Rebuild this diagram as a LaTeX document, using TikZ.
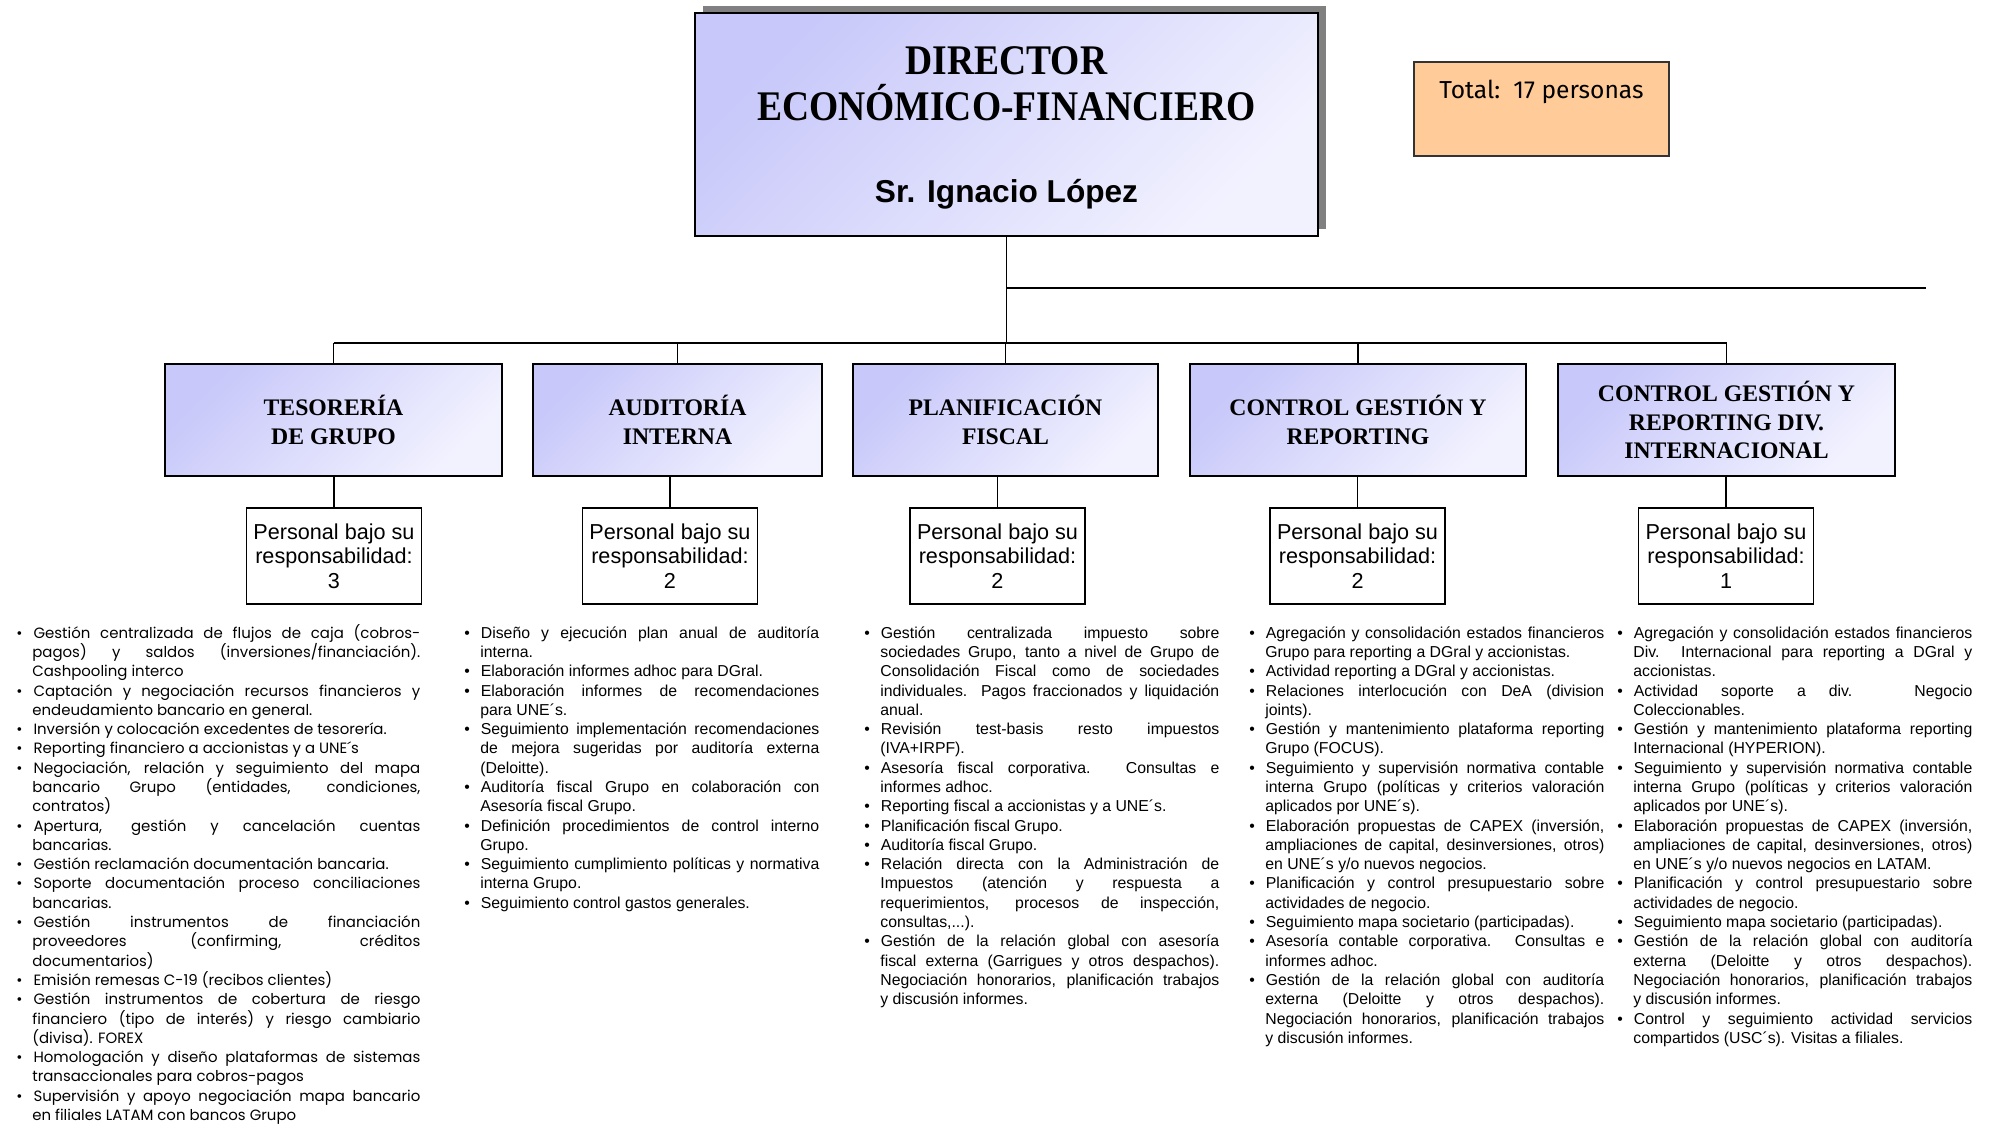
\documentclass[tikz,border=0pt]{standalone}
\usepackage{fontspec}
\setmainfont{Liberation Sans}
\newfontfamily\titlefont[FakeStretch=0.89]{Liberation Serif}
\newfontfamily\deptfont{Liberation Serif}
\newfontfamily\gothicfont{Poppins}
\newfontfamily\totalfont{Fira Sans}
\usetikzlibrary{positioning, calc, shadows}

\definecolor{boxdark}{RGB}{200,200,250}
\definecolor{boxlight}{RGB}{242,242,255}
\definecolor{peach}{RGB}{255,204,153}
\definecolor{shadowgray}{RGB}{128,128,128}

\newenvironment{tareas}{%
  \hyphenpenalty=10000 \exhyphenpenalty=10000
  \begin{list}{\textbullet}{\setlength{\leftmargin}{0.35cm}\setlength{\labelwidth}{0.1cm}%
    \setlength{\labelsep}{0.22cm}\setlength{\itemsep}{0pt}\setlength{\parsep}{0pt}%
    \setlength{\topsep}{0pt}\setlength{\partopsep}{0pt}}}%
  {\end{list}}

\begin{document}
\begin{tikzpicture}[
    director/.style={rectangle, draw, line width=1pt, top color=boxdark, bottom color=boxlight, shading angle=45, minimum width=12.46cm, minimum height=4.46cm, align=center, font=\titlefont\bfseries\fontsize{24}{26}\selectfont},
    dept/.style={rectangle, draw, line width=0.8pt, top color=boxdark, bottom color=boxlight, shading angle=45, minimum height=2.24cm, align=center, font=\deptfont\bfseries\fontsize{13.5}{16.2}\selectfont},
    personal/.style={rectangle, draw, line width=0.8pt, fill=white, minimum width=3.5cm, minimum height=1.92cm, align=center, font=\fontsize{12.3}{14}\selectfont},
    total/.style={rectangle, draw=black!80, line width=0.7pt, fill=peach, minimum width=5.1cm, inner ysep=0.35cm, text height=0.37cm, text depth=0.81cm, font=\totalfont\fontsize{14}{16}\selectfont},
    lista/.style={anchor=north west, inner sep=0pt, align=justify, font=\fontsize{9}{10.98}\selectfont},
    link/.style={line width=1pt}
]
\useasboundingbox (0,0) rectangle (39.82,-22.48);

% Director and total
\node[director, drop shadow={shadow xshift=0.15cm, shadow yshift=0.15cm, fill=shadowgray, opacity=1}, text depth=-0.2cm] (director) at (20.13,-2.49)
    {DIRECTOR\\ECONÓMICO-FINANCIERO\\[0.72cm]{\rmfamily\fontsize{18}{20}\selectfont Sr. Ignacio López}};
\node[total] (total) at (30.83,-2.18) {Total:\ \ 17 personas};

% Departments with their staff boxes
\foreach \nom/\x/\w/\px/\titulo/\num in {
    tes/6.67/6.74/6.68/{TESORERÍA\\DE GRUPO}/3,
    aud/13.55/5.78/13.40/{AUDITORÍA\\INTERNA}/2,
    pla/20.11/6.10/19.95/{PLANIFICACIÓN\\FISCAL}/2,
    cge/27.16/6.72/27.15/{CONTROL GESTIÓN Y\\REPORTING}/2,
    cgi/34.53/6.74/34.52/{CONTROL GESTIÓN Y\\REPORTING DIV.\\INTERNACIONAL}/1} {
    \node[dept, minimum width=\w cm] (\nom) at (\x,-8.40) {\titulo};
    \node[personal] (p\nom) at (\px,-11.12) {Personal bajo su\\responsabilidad:\\\num};
    \draw[link] (p\nom.north |- \nom.south) -- (p\nom.north);
    \draw[link] (\nom.north) -- ++(0,0.4);
}

% Connectors
\coordinate (bus) at ($(tes.north)+(0,0.4)$);
\coordinate (ramal) at (38.52,-5.76);
\draw[link] (bus) -- (bus -| cgi.north);
\draw[link] (director.south) -- (director.south |- bus);
\draw[link] (director.south |- ramal) -- (ramal);

% Task lists
\node[lista, text width=8.11cm, font=\gothicfont\fontsize{8.5}{10.98}\selectfont] (ltes) at (0.29,-12.37) {\begin{tareas}
\item Gestión centralizada de flujos de caja (cobros-\linebreak pagos) y saldos (inversiones/financiación).\linebreak Cashpooling interco
\item Captación y negociación recursos financieros y\linebreak endeudamiento bancario en general.
\item Inversión y colocación excedentes de tesorería.
\item Reporting financiero a accionistas y a UNE´s
\item Negociación, relación y seguimiento del mapa\linebreak bancario Grupo (entidades, condiciones,\linebreak contratos)
\item Apertura, gestión y cancelación cuentas\linebreak bancarias.
\item Gestión reclamación documentación bancaria.
\item Soporte documentación proceso conciliaciones\linebreak bancarias.
\item Gestión instrumentos de financiación\linebreak proveedores (confirming, créditos\linebreak documentarios)
\item Emisión remesas C-19 (recibos clientes)
\item Gestión instrumentos de cobertura de riesgo\linebreak financiero (tipo de interés) y riesgo cambiario\linebreak (divisa). FOREX
\item Homologación y diseño plataformas de sistemas\linebreak transaccionales para cobros-pagos
\item Supervisión y apoyo negociación mapa bancario\linebreak en filiales LATAM con bancos Grupo
\end{tareas}};

\node[lista, text width=7.13cm] (laud) at (9.25,-12.37) {\begin{tareas}
\item Diseño y ejecución plan anual de auditoría\linebreak interna.
\item Elaboración informes adhoc para DGral.
\item Elaboración informes de recomendaciones\linebreak para UNE´s.
\item Seguimiento implementación recomendaciones\linebreak de mejora sugeridas por auditoría externa\linebreak (Deloitte).
\item Auditoría fiscal Grupo en colaboración con\linebreak Asesoría fiscal Grupo.
\item Definición procedimientos de control interno\linebreak Grupo.
\item Seguimiento cumplimiento políticas y normativa\linebreak interna Grupo.
\item Seguimiento control gastos generales.
\end{tareas}};

\node[lista, text width=7.13cm] (lpla) at (17.25,-12.37) {\begin{tareas}
\item Gestión centralizada impuesto sobre\linebreak sociedades Grupo, tanto a nivel de Grupo de\linebreak Consolidación Fiscal como de sociedades\linebreak individuales. Pagos fraccionados y liquidación\linebreak anual.
\item Revisión test-basis resto impuestos\linebreak (IVA+IRPF).
\item Asesoría fiscal corporativa. Consultas e\linebreak informes adhoc.
\item Reporting fiscal a accionistas y a UNE´s.
\item Planificación fiscal Grupo.
\item Auditoría fiscal Grupo.
\item Relación directa con la Administración de\linebreak Impuestos (atención y respuesta a\linebreak requerimientos, procesos de inspección,\linebreak consultas,...).
\item Gestión de la relación global con asesoría\linebreak fiscal externa (Garrigues y otros despachos).\linebreak Negociación honorarios, planificación trabajos\linebreak y discusión informes.
\end{tareas}};

\node[lista, text width=7.13cm] (lcge) at (24.95,-12.37) {\begin{tareas}
\item Agregación y consolidación estados financieros\linebreak Grupo para reporting a DGral y accionistas.
\item Actividad reporting a DGral y accionistas.
\item Relaciones interlocución con DeA (division\linebreak joints).
\item Gestión y mantenimiento plataforma reporting\linebreak Grupo (FOCUS).
\item Seguimiento y supervisión normativa contable\linebreak interna Grupo (políticas y criterios valoración\linebreak aplicados por UNE´s).
\item Elaboración propuestas de CAPEX (inversión,\linebreak ampliaciones de capital, desinversiones, otros)\linebreak en UNE´s y/o nuevos negocios.
\item Planificación y control presupuestario sobre\linebreak actividades de negocio.
\item Seguimiento mapa societario (participadas).
\item Asesoría contable corporativa. Consultas e\linebreak informes adhoc.
\item Gestión de la relación global con auditoría\linebreak externa (Deloitte y otros despachos).\linebreak Negociación honorarios, planificación trabajos\linebreak y discusión informes.
\end{tareas}};

\node[lista, text width=7.13cm] (lcgi) at (32.31,-12.37) {\begin{tareas}
\item Agregación y consolidación estados financieros\linebreak Div. Internacional para reporting a DGral y\linebreak accionistas.
\item Actividad soporte a div. Negocio\linebreak Coleccionables.
\item Gestión y mantenimiento plataforma reporting\linebreak Internacional (HYPERION).
\item Seguimiento y supervisión normativa contable\linebreak interna Grupo (políticas y criterios valoración\linebreak aplicados por UNE´s).
\item Elaboración propuestas de CAPEX (inversión,\linebreak ampliaciones de capital, desinversiones, otros)\linebreak en UNE´s y/o nuevos negocios en LATAM.
\item Planificación y control presupuestario sobre\linebreak actividades de negocio.
\item Seguimiento mapa societario (participadas).
\item Gestión de la relación global con auditoría\linebreak externa (Deloitte y otros despachos).\linebreak Negociación honorarios, planificación trabajos\linebreak y discusión informes.
\item Control y seguimiento actividad servicios\linebreak compartidos (USC´s). Visitas a filiales.
\end{tareas}};

\end{tikzpicture}
\end{document}
